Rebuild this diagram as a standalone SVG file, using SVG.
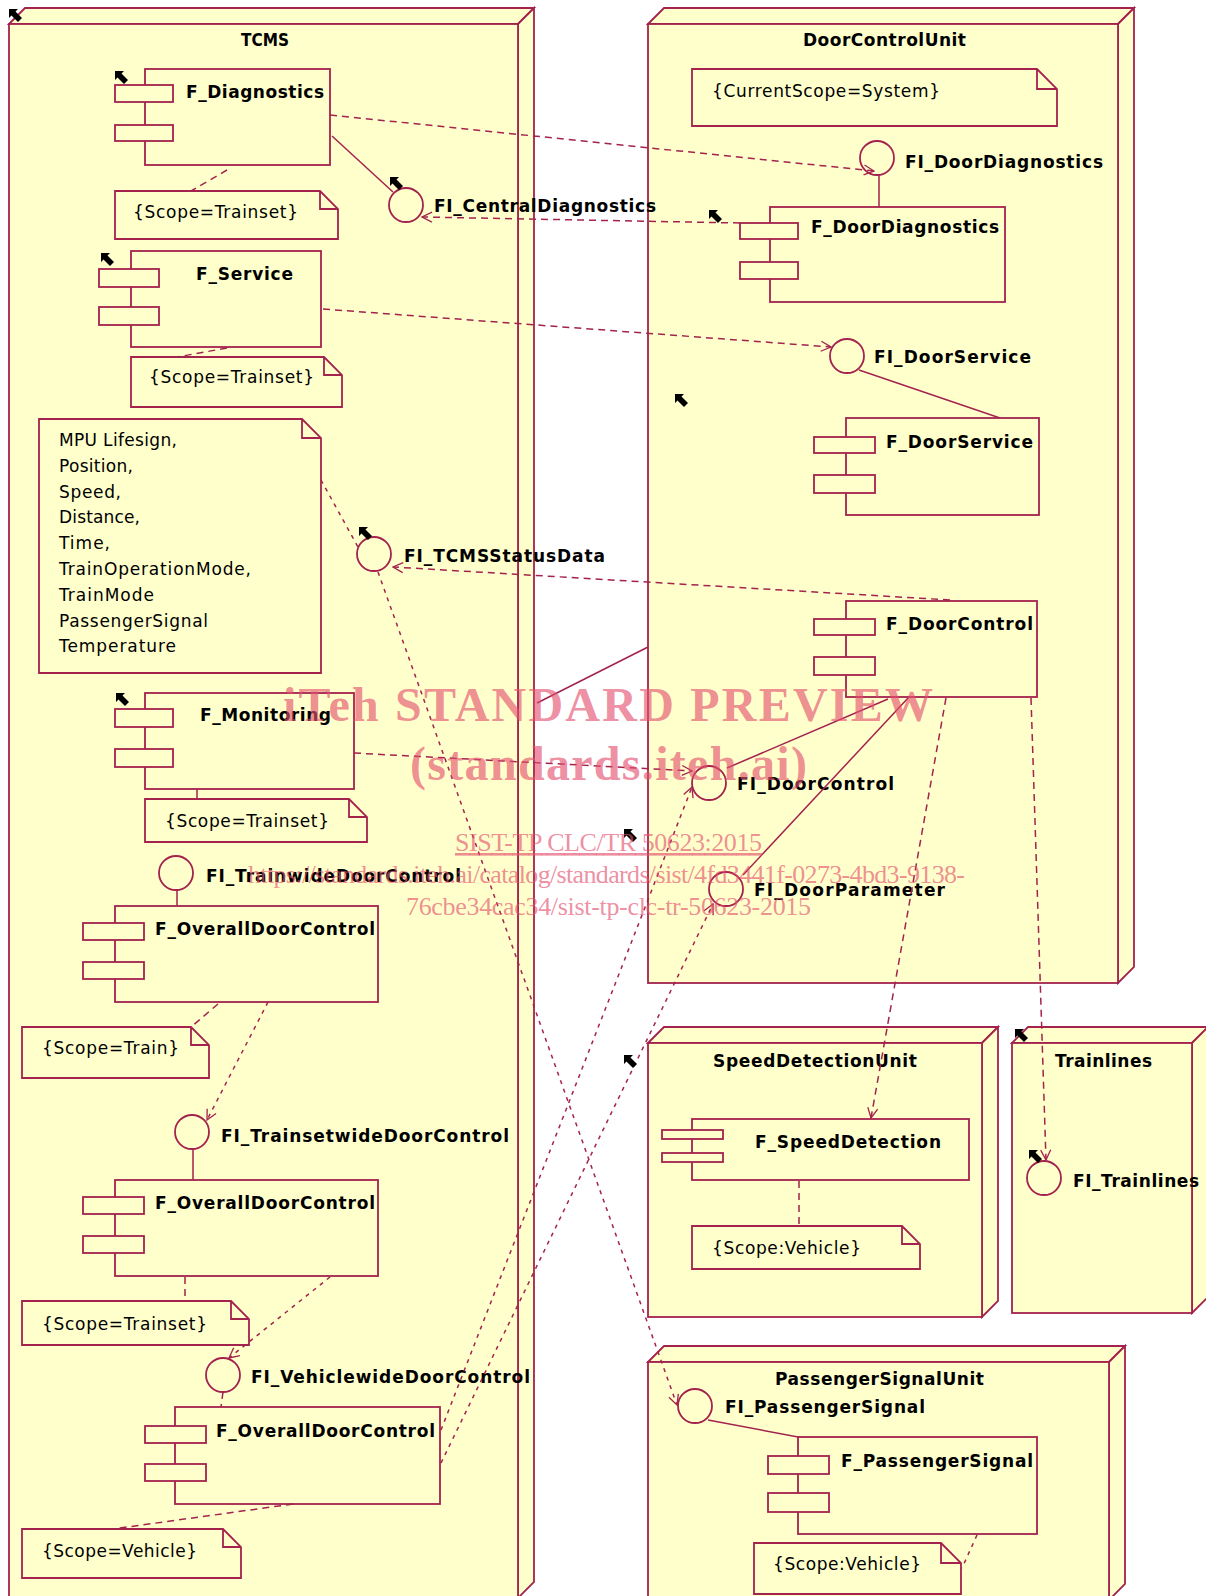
<svg xmlns="http://www.w3.org/2000/svg" xmlns:xlink="http://www.w3.org/1999/xlink" width="1206" height="1596" viewBox="0 0 1206 1596">
<style>
.nd{fill:#FFFFCC;stroke:#A3224E;stroke-width:1.8;stroke-linejoin:miter}
.ln{fill:none;stroke:#A3224E;stroke-width:1.5}
.dash{stroke-dasharray:7 5}
.dot{stroke-dasharray:4 5}
.t{font-family:"DejaVu Sans","Liberation Sans",sans-serif;font-size:17px;fill:#000}
.b{font-weight:bold}
.wm{font-family:"Liberation Serif","Times New Roman",serif;fill:#E4506E;fill-opacity:0.65}
</style>
<defs>
<marker id="arr" viewBox="0 0 12 12" refX="11" refY="6" markerWidth="12" markerHeight="12" markerUnits="userSpaceOnUse" orient="auto">
<path d="M1,1 L11,6 L1,11" fill="none" stroke="#A3224E" stroke-width="1.3"/>
</marker>
<path id="ico" d="M0,0 L9,0 L6.5,2.5 L13,9 L9,13 L2.5,6.5 L0,9 Z" fill="#000"/>
</defs>
<rect width="1206" height="1596" fill="#FFFFFF"/>

<!-- containers -->
<g id="TCMS">
<polygon class="nd" points="9,24 25,8 534,8 518,24"/>
<polygon class="nd" points="518,24 534,8 534,1582 518,1598"/>
<rect class="nd" x="9" y="24" width="509" height="1574"/>
<text class="t b" x="241" y="46" textLength="48" lengthAdjust="spacingAndGlyphs">TCMS</text>
</g>
<g id="DoorControlUnit">
<polygon class="nd" points="648,24 664,8 1134,8 1118,24"/>
<polygon class="nd" points="1118,24 1134,8 1134,967 1118,983"/>
<rect class="nd" x="648" y="24" width="470" height="959"/>
<text class="t b" x="803" y="46" textLength="163">DoorControlUnit</text>
</g>
<g id="SpeedDetectionUnit">
<polygon class="nd" points="648,1043 664,1027 998,1027 982,1043"/>
<polygon class="nd" points="982,1043 998,1027 998,1301 982,1317"/>
<rect class="nd" x="648" y="1043" width="334" height="274"/>
<text class="t b" x="713" y="1067" textLength="204">SpeedDetectionUnit</text>
</g>
<g id="Trainlines">
<polygon class="nd" points="1012,1043 1028,1027 1208,1027 1192,1043"/>
<polygon class="nd" points="1192,1043 1208,1027 1208,1297 1192,1313"/>
<rect class="nd" x="1012" y="1043" width="180" height="270"/>
<text class="t b" x="1055" y="1067" textLength="97">Trainlines</text>
</g>
<g id="PassengerSignalUnit">
<polygon class="nd" points="648,1362 664,1346 1125,1346 1109,1362"/>
<polygon class="nd" points="1109,1362 1125,1346 1125,1584 1109,1600"/>
<rect class="nd" x="648" y="1362" width="461" height="238"/>
<text class="t b" x="775" y="1385" textLength="209">PassengerSignalUnit</text>
</g>

<!-- TCMS content -->
<g id="F_Diagnostics">
<rect class="nd" x="145" y="69" width="185" height="96"/>
<rect class="nd" x="115" y="85" width="58" height="17"/>
<rect class="nd" x="115" y="125" width="58" height="16"/>
<text class="t b" x="186" y="98" textLength="138">F_Diagnostics</text>
</g>
<g id="note_scope1">
<path class="nd" d="M115,191 L320,191 L338,209 L338,239 L115,239 Z M320,191 L320,209 L338,209"/>
<text class="t" x="133" y="218" textLength="165">{Scope=Trainset}</text>
</g>
<g id="F_Service">
<rect class="nd" x="131" y="251" width="190" height="96"/>
<rect class="nd" x="99" y="269" width="60" height="18"/>
<rect class="nd" x="99" y="307" width="60" height="18"/>
<text class="t b" x="196" y="280" textLength="97">F_Service</text>
</g>
<g id="note_scope2">
<path class="nd" d="M131,357 L324,357 L342,375 L342,407 L131,407 Z M324,357 L324,375 L342,375"/>
<text class="t" x="149" y="383" textLength="165">{Scope=Trainset}</text>
</g>
<g id="note_statusdata">
<path class="nd" d="M39,419 L302,419 L321,438 L321,673 L39,673 Z M302,419 L302,438 L321,438"/>
<text class="t" x="59" y="446" textLength="118">MPU Lifesign,</text>
<text class="t" x="59" y="472" textLength="74">Position,</text>
<text class="t" x="59" y="498" textLength="62">Speed,</text>
<text class="t" x="59" y="523" textLength="81">Distance,</text>
<text class="t" x="59" y="549" textLength="51">Time,</text>
<text class="t" x="59" y="575" textLength="192">TrainOperationMode,</text>
<text class="t" x="59" y="601" textLength="95">TrainMode</text>
<text class="t" x="59" y="627" textLength="149">PassengerSignal</text>
<text class="t" x="59" y="652" textLength="117">Temperature</text>
</g>
<g id="F_Monitoring">
<rect class="nd" x="145" y="693" width="209" height="96"/>
<rect class="nd" x="115" y="709" width="58" height="18"/>
<rect class="nd" x="115" y="749" width="58" height="18"/>
<text class="t b" x="200" y="721" textLength="131">F_Monitoring</text>
</g>
<g id="note_scope3">
<path class="nd" d="M145,799 L349,799 L367,817 L367,842 L145,842 Z M349,799 L349,817 L367,817"/>
<text class="t" x="165" y="827" textLength="164">{Scope=Trainset}</text>
</g>
<g id="F_OverallDoorControl_1">
<rect class="nd" x="115" y="906" width="263" height="96"/>
<rect class="nd" x="83" y="923" width="61" height="17"/>
<rect class="nd" x="83" y="962" width="61" height="17"/>
<text class="t b" x="155" y="935" textLength="220">F_OverallDoorControl</text>
</g>
<g id="note_train">
<path class="nd" d="M22,1027 L191,1027 L209,1045 L209,1078 L22,1078 Z M191,1027 L191,1045 L209,1045"/>
<text class="t" x="42" y="1054" textLength="137">{Scope=Train}</text>
</g>
<g id="F_OverallDoorControl_2">
<rect class="nd" x="115" y="1180" width="263" height="96"/>
<rect class="nd" x="83" y="1197" width="61" height="17"/>
<rect class="nd" x="83" y="1236" width="61" height="17"/>
<text class="t b" x="155" y="1209" textLength="220">F_OverallDoorControl</text>
</g>
<g id="note_scope4">
<path class="nd" d="M22,1301 L231,1301 L249,1319 L249,1345 L22,1345 Z M231,1301 L231,1319 L249,1319"/>
<text class="t" x="42" y="1330" textLength="165">{Scope=Trainset}</text>
</g>
<g id="F_OverallDoorControl_3">
<rect class="nd" x="175" y="1407" width="265" height="97"/>
<rect class="nd" x="145" y="1426" width="61" height="17"/>
<rect class="nd" x="145" y="1464" width="61" height="17"/>
<text class="t b" x="216" y="1437" textLength="219">F_OverallDoorControl</text>
</g>
<g id="note_vehicle1">
<path class="nd" d="M22,1529 L223,1529 L241,1547 L241,1578 L22,1578 Z M223,1529 L223,1547 L241,1547"/>
<text class="t" x="42" y="1557" textLength="155">{Scope=Vehicle}</text>
</g>

<!-- DCU content -->
<g id="note_currentscope">
<path class="nd" d="M692,69 L1037,69 L1057,89 L1057,126 L692,126 Z M1037,69 L1037,89 L1057,89"/>
<text class="t" x="712" y="97" textLength="228">{CurrentScope=System}</text>
</g>
<g id="F_DoorDiagnostics">
<rect class="nd" x="770" y="207" width="235" height="95"/>
<rect class="nd" x="740" y="223" width="58" height="16"/>
<rect class="nd" x="740" y="262" width="58" height="17"/>
<text class="t b" x="811" y="233" textLength="188">F_DoorDiagnostics</text>
</g>
<g id="F_DoorService">
<rect class="nd" x="846" y="418" width="193" height="97"/>
<rect class="nd" x="814" y="437" width="61" height="16"/>
<rect class="nd" x="814" y="475" width="61" height="18"/>
<text class="t b" x="886" y="448" textLength="147">F_DoorService</text>
</g>
<g id="F_DoorControl">
<rect class="nd" x="846" y="601" width="191" height="96"/>
<rect class="nd" x="814" y="619" width="61" height="16"/>
<rect class="nd" x="814" y="657" width="61" height="18"/>
<text class="t b" x="886" y="630" textLength="147">F_DoorControl</text>
</g>
<g id="F_SpeedDetection">
<rect class="nd" x="692" y="1119" width="277" height="61"/>
<rect class="nd" x="662" y="1130" width="61" height="9"/>
<rect class="nd" x="662" y="1153" width="61" height="9"/>
<text class="t b" x="755" y="1148" textLength="186">F_SpeedDetection</text>
</g>
<g id="note_vehicle2">
<path class="nd" d="M692,1226 L902,1226 L920,1244 L920,1269 L692,1269 Z M902,1226 L902,1244 L920,1244"/>
<text class="t" x="712" y="1254" textLength="149">{Scope:Vehicle}</text>
</g>
<g id="F_PassengerSignal">
<rect class="nd" x="798" y="1437" width="239" height="97"/>
<rect class="nd" x="768" y="1456" width="61" height="18"/>
<rect class="nd" x="768" y="1493" width="61" height="19"/>
<text class="t b" x="841" y="1467" textLength="192">F_PassengerSignal</text>
</g>
<g id="note_vehicle3">
<path class="nd" d="M754,1543 L941,1543 L961,1563 L961,1594 L754,1594 Z M941,1543 L941,1563 L961,1563"/>
<text class="t" x="773" y="1570" textLength="148">{Scope:Vehicle}</text>
</g>

<!-- interfaces -->
<g id="FI_CentralDiagnostics"><circle class="nd" cx="406" cy="205" r="17"/><text class="t b" x="434" y="212" textLength="222">FI_CentralDiagnostics</text></g>
<g id="FI_DoorDiagnostics"><circle class="nd" cx="877" cy="158" r="17"/><text class="t b" x="905" y="168" textLength="198">FI_DoorDiagnostics</text></g>
<g id="FI_DoorService"><circle class="nd" cx="847" cy="356" r="17"/><text class="t b" x="874" y="363" textLength="157">FI_DoorService</text></g>
<g id="FI_TCMSStatusData"><circle class="nd" cx="374" cy="554" r="17"/><text class="t b" x="404" y="562" textLength="201">FI_TCMSStatusData</text></g>
<g id="FI_DoorControl"><circle class="nd" cx="709" cy="783" r="17"/><text class="t b" x="737" y="790" textLength="157">FI_DoorControl</text></g>
<g id="FI_DoorParameter"><circle class="nd" cx="726" cy="889" r="17"/><text class="t b" x="754" y="896" textLength="191">FI_DoorParameter</text></g>
<g id="FI_TrainwideDoorControl"><circle class="nd" cx="176" cy="873" r="17"/><text class="t b" x="206" y="882" textLength="255">FI_TrainwideDoorControl</text></g>
<g id="FI_TrainsetwideDoorControl"><circle class="nd" cx="192" cy="1132" r="17"/><text class="t b" x="221" y="1142" textLength="288">FI_TrainsetwideDoorControl</text></g>
<g id="FI_VehiclewideDoorControl"><circle class="nd" cx="223" cy="1375" r="17"/><text class="t b" x="251" y="1383" textLength="279">FI_VehiclewideDoorControl</text></g>
<g id="FI_Trainlines"><circle class="nd" cx="1044" cy="1178" r="17"/><text class="t b" x="1073" y="1187" textLength="126">FI_Trainlines</text></g>
<g id="FI_PassengerSignal"><circle class="nd" cx="695" cy="1406" r="17"/><text class="t b" x="725" y="1413" textLength="200">FI_PassengerSignal</text></g>

<!-- connectors -->
<g id="connectors">
<line class="ln dash" x1="330" y1="115" x2="874" y2="171" marker-end="url(#arr)"/>
<line class="ln" x1="332" y1="136" x2="393" y2="192"/>
<line class="ln dash" x1="740" y1="223" x2="422" y2="217" marker-end="url(#arr)"/>
<line class="ln" x1="879" y1="175" x2="879" y2="207"/>
<line class="ln dash" x1="323" y1="309" x2="831" y2="347" marker-end="url(#arr)"/>
<line class="ln" x1="859" y1="370" x2="1000" y2="418"/>
<line class="ln dot" x1="321" y1="480" x2="358" y2="547"/>
<line class="ln dot" x1="378" y1="572" x2="677" y2="1405" marker-end="url(#arr)"/>
<line class="ln dash" x1="950" y1="600" x2="393" y2="567" marker-end="url(#arr)"/>
<line class="ln" x1="537" y1="703" x2="648" y2="647"/>
<line class="ln dash" x1="354" y1="753" x2="692" y2="771" marker-end="url(#arr)"/>
<line class="ln" x1="888" y1="699" x2="727" y2="768"/>
<line class="ln" x1="909" y1="697" x2="743" y2="875"/>
<line class="ln dash" x1="946" y1="698" x2="871" y2="1118" marker-end="url(#arr)"/>
<line class="ln dash" x1="1031" y1="698" x2="1046" y2="1160" marker-end="url(#arr)"/>
<line class="ln dot" x1="441" y1="1430" x2="692" y2="787" marker-end="url(#arr)"/>
<line class="ln dot" x1="441" y1="1463" x2="713" y2="904" marker-end="url(#arr)"/>
<line class="ln dash" x1="227" y1="170" x2="191" y2="191"/>
<line class="ln dash" x1="227" y1="348" x2="177" y2="357"/>
<line class="ln" x1="197" y1="789" x2="197" y2="799"/>
<line class="ln" x1="177" y1="890" x2="177" y2="906"/>
<line class="ln dash" x1="218" y1="1004" x2="191" y2="1027"/>
<line class="ln dot" x1="268" y1="1002" x2="207" y2="1120" marker-end="url(#arr)"/>
<line class="ln" x1="193" y1="1149" x2="193" y2="1180"/>
<line class="ln dash" x1="185" y1="1277" x2="185" y2="1301"/>
<line class="ln dot" x1="330" y1="1277" x2="229" y2="1358" marker-end="url(#arr)"/>
<line class="ln dash" x1="223" y1="1392" x2="221" y2="1407"/>
<line class="ln dash" x1="293" y1="1504" x2="113" y2="1529"/>
<line class="ln dash" x1="799" y1="1181" x2="799" y2="1226"/>
<line class="ln" x1="708" y1="1420" x2="798" y2="1437"/>
<line class="ln dot" x1="977" y1="1535" x2="962" y2="1568"/>
</g>

<!-- link icons -->
<g id="icons">
<use xlink:href="#ico" x="9" y="9"/>
<use xlink:href="#ico" x="115" y="71"/>
<use xlink:href="#ico" x="101" y="253"/>
<use xlink:href="#ico" x="390" y="177"/>
<use xlink:href="#ico" x="709" y="210"/>
<use xlink:href="#ico" x="675" y="394"/>
<use xlink:href="#ico" x="359" y="527"/>
<use xlink:href="#ico" x="116" y="693"/>
<use xlink:href="#ico" x="624" y="829"/>
<use xlink:href="#ico" x="624" y="1055"/>
<use xlink:href="#ico" x="1015" y="1029"/>
<use xlink:href="#ico" x="1029" y="1150"/>
</g>

<!-- watermark -->
<g id="watermark">
<text class="wm" x="283" y="721" font-size="48" font-weight="bold" textLength="650">iTeh STANDARD PREVIEW</text>
<text class="wm" x="410" y="780" font-size="48" font-weight="bold" textLength="397">(standards.iteh.ai)</text>
<text class="wm" x="455" y="851" font-size="26" textLength="307" text-decoration="underline">SIST-TP CLC/TR 50623:2015</text>
<text class="wm" x="248" y="883" font-size="26" textLength="717">https://standards.iteh.ai/catalog/standards/sist/4fd3441f-0273-4bd3-9138-</text>
<text class="wm" x="406" y="915" font-size="26" textLength="405">76cbe34cac34/sist-tp-clc-tr-50623-2015</text>
</g>
</svg>
